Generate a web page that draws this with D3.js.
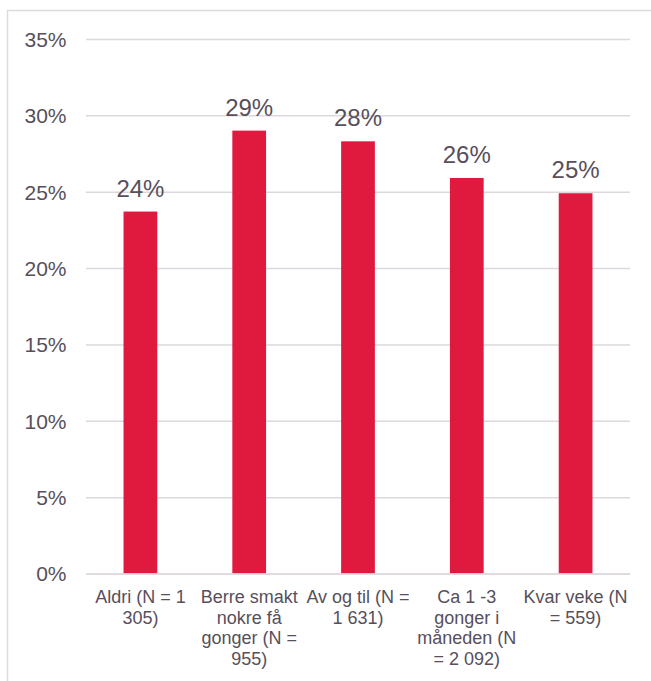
<!DOCTYPE html>
<html>
<head>
<meta charset="utf-8">
<script src="https://cdn.jsdelivr.net/npm/d3@7"></script>
<style>
  html, body { margin: 0; padding: 0; background: #fff; }
  svg { display: block; font-family: "Liberation Sans", Arial, sans-serif; }
</style>
</head>
<body>
<svg id="chart" width="651" height="681"></svg>
<script>
const categories = [
  "Aldri (N = 1\n305)",
  "Berre smakt\nnokre få\ngonger (N =\n955)",
  "Av og til (N =\n1 631)",
  "Ca 1 -3\ngonger i\nmåneden (N\n= 2 092)",
  "Kvar veke (N\n= 559)"
];
const values = [0.237, 0.290, 0.283, 0.259, 0.249];
const valueLabels = ["24%", "29%", "28%", "26%", "25%"];
const yTicks = [0, 0.05, 0.10, 0.15, 0.20, 0.25, 0.30, 0.35];

const svg = d3.select("#chart");
const textColor = "#574f5b";
const gridColor = "#dcd8dd";
const barColor = "#e0193f";

// outer frame (only left and top visible)
svg.append("rect")
  .attr("x", 7.5).attr("y", 10.5)
  .attr("width", 700).attr("height", 700)
  .attr("fill", "none").attr("stroke", "#dcdcdc").attr("stroke-width", 1.5);

const x = d3.scaleBand().domain(categories).range([86, 630]).paddingInner(0.69).paddingOuter(0.345);
const y = d3.scaleLinear().domain([0, 0.35]).range([573.5, 39]);

// gridlines
const yAxis = d3.axisLeft(y).tickValues(yTicks).tickFormat(d3.format(".0%")).tickSize(-(630 - 86)).tickPadding(20);
const gy = svg.append("g").attr("transform", "translate(86,0)").call(yAxis);
gy.select(".domain").remove();
gy.selectAll(".tick line").attr("stroke", gridColor).attr("stroke-width", 1.5);
gy.selectAll(".tick text")
  .attr("fill", textColor).attr("font-size", "21px")
  .attr("x", -19.5).attr("dy", "0.35em");

// bars
svg.append("g").selectAll("rect").data(values).join("rect")
  .attr("x", (d, i) => x(categories[i]))
  .attr("width", x.bandwidth())
  .attr("y", d => y(d))
  .attr("height", d => y(0) - y(d))
  .attr("fill", barColor);

// value labels
svg.append("g").selectAll("text").data(values).join("text")
  .attr("x", (d, i) => x(categories[i]) + x.bandwidth() / 2)
  .attr("y", d => y(d) - 15)
  .attr("text-anchor", "middle")
  .attr("fill", textColor)
  .attr("font-size", "24px")
  .text((d, i) => valueLabels[i]);

// x axis
const xAxis = d3.axisBottom(x).tickSize(0).tickFormat("");
const gx = svg.append("g").attr("transform", `translate(0,${y(0)})`).call(xAxis);
gx.select(".domain").attr("stroke", gridColor).attr("stroke-width", 1.5);

const labels = svg.append("g");
categories.forEach(c => {
  const lines = c.split("\n");
  const t = labels.append("text")
    .attr("x", x(c) + x.bandwidth() / 2)
    .attr("y", 603)
    .attr("text-anchor", "middle")
    .attr("fill", textColor)
    .attr("font-size", "18px");
  lines.forEach((l, i) => {
    t.append("tspan").attr("x", x(c) + x.bandwidth() / 2).attr("dy", i === 0 ? 0 : 20.7).text(l);
  });
});
</script>
</body>
</html>
